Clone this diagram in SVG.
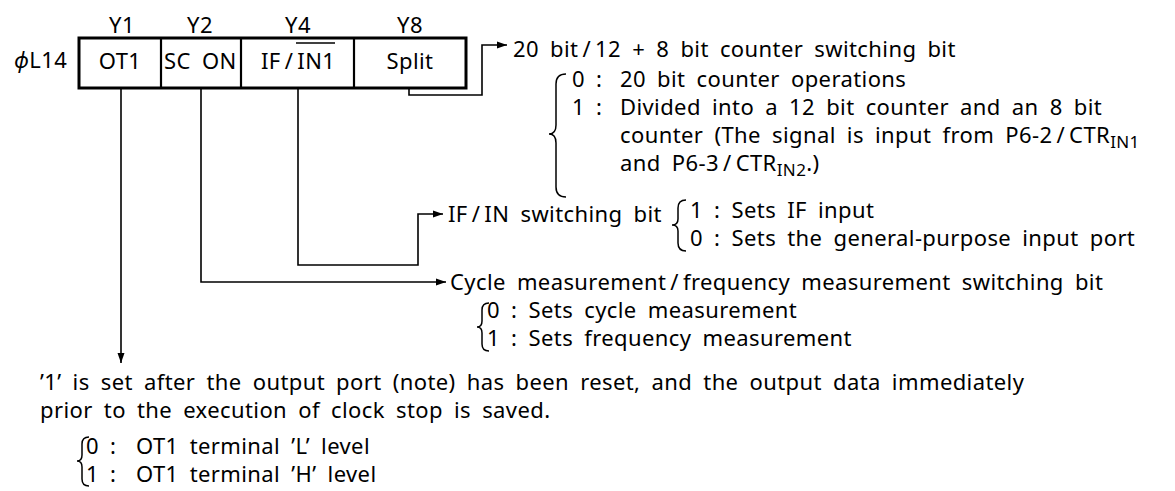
<svg xmlns="http://www.w3.org/2000/svg" width="1175" height="491" viewBox="0 0 1175 491">
<style>
text{font-family:"Noto Sans","Open Sans","Liberation Sans",sans-serif;font-size:22px;fill:#000;word-spacing:5px;letter-spacing:0.4px}
.c{text-anchor:middle}
.box{fill:#fff;stroke:#000;stroke-width:3}
.div{stroke:#000;stroke-width:2.2}
.ln{fill:none;stroke:#000;stroke-width:1.6}
.br{fill:none;stroke:#000;stroke-width:1.5}
.sub{font-size:17px}
</style>
<defs>
<marker id="ah" viewBox="0 0 10 10" refX="10" refY="5" markerWidth="10" markerHeight="10" markerUnits="userSpaceOnUse" orient="auto">
<path d="M0,1.5 L10,5 L0,8.5 Z" fill="#000"/>
</marker>
</defs>
<g id="register">
<text x="14" y="68"><tspan font-style="italic">ϕ</tspan>L14</text>
<text class="c" x="122" y="33">Y1</text>
<text class="c" x="200" y="33">Y2</text>
<text class="c" x="298" y="33">Y4</text>
<text class="c" x="410" y="33">Y8</text>
<rect class="box" x="79" y="38" width="387" height="50"/>
<line class="div" x1="161" y1="38" x2="161" y2="88"/>
<line class="div" x1="241" y1="38" x2="241" y2="88"/>
<line class="div" x1="354" y1="38" x2="354" y2="88"/>
<text class="c" x="120" y="69">OT1</text>
<text x="164" y="69">SC ON</text>
<text x="261" y="69">IF&#8201;/&#8201;IN1</text>
<line x1="296" y1="43" x2="335" y2="43" stroke="#000" stroke-width="1.4"/>
<text class="c" x="410" y="69">Split</text>
</g>
<g id="connectors">
<polyline class="ln" points="409,88 409,95 482,95 482,45 507,45" marker-end="url(#ah)"/>
<polyline class="ln" points="298,88 298,265 418,265 418,214 443,214" marker-end="url(#ah)"/>
<polyline class="ln" points="201,88 201,282 446,282" marker-end="url(#ah)"/>
<polyline class="ln" points="121,88 121,363" marker-end="url(#ah)"/>
</g>
<g id="split-desc">
<text x="513" y="57">20 bit&#8201;/&#8201;12 + 8 bit counter switching bit</text>
<path class="br" d="M566,74 Q556,74 556,84 L556,125 Q556,134 549,134 Q556,134 556,143 L556,187 Q556,197 566,197"/>
<text x="572" y="87">0 : </text><text x="620" y="87">20 bit counter operations</text>
<text x="572" y="115">1 : </text><text x="620" y="115">Divided into a 12 bit counter and an 8 bit</text>
<text x="620" y="143">counter (The signal is input from P6-2&#8201;/&#8201;CTR<tspan class="sub" dy="5">IN1</tspan></text>
<text x="620" y="171">and P6-3&#8201;/&#8201;CTR<tspan class="sub" dy="5">IN2</tspan><tspan dy="-5">.)</tspan></text>
</g>
<g id="ifin-desc">
<text x="448" y="222">IF&#8201;/&#8201;IN switching bit</text>
<path class="br" d="M686,200 Q678,200 678,208 L678,219 Q678,225 672,225 Q678,225 678,231 L678,243 Q678,251 686,251"/>
<text x="690" y="218">1 : Sets IF input</text>
<text x="690" y="246">0 : Sets the general-purpose input port</text>
</g>
<g id="cycle-desc">
<text x="450" y="290">Cycle measurement&#8201;/&#8201;frequency measurement switching bit</text>
<path class="br" d="M489,303 Q482,303 482,310 L482,321 Q482,327 477,327 Q482,327 482,333 L482,344 Q482,351 489,351"/>
<text x="487" y="318">0 : Sets cycle measurement</text>
<text x="487" y="346">1 : Sets frequency measurement</text>
</g>
<g id="ot1-desc">
<text x="40" y="390">’1’ is set after the output port (note) has been reset, and the output data immediately</text>
<text x="40" y="418">prior to the execution of clock stop is saved.</text>
<path class="br" d="M89,437 Q82,437 82,444 L82,455 Q82,461 77,461 Q82,461 82,467 L82,479 Q82,486 89,486"/>
<text x="86" y="454">0</text><text x="110" y="454">:</text><text x="136" y="454">OT1 terminal ’L’ level</text>
<text x="86" y="482">1</text><text x="110" y="482">:</text><text x="136" y="482">OT1 terminal ’H’ level</text>
</g>
</svg>
